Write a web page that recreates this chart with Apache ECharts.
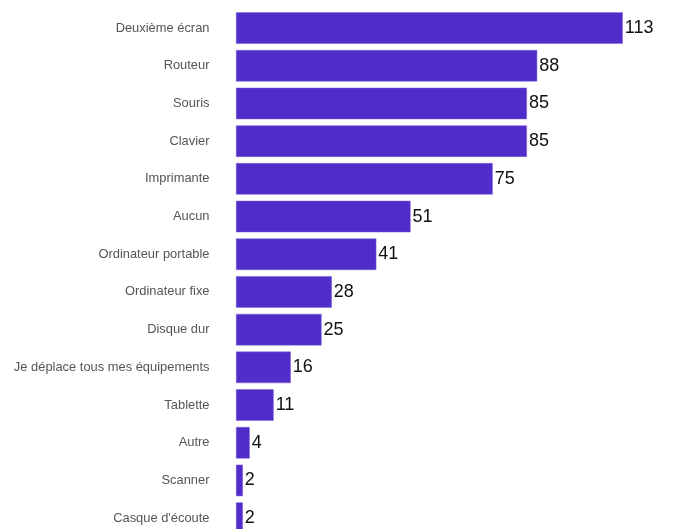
<!DOCTYPE html>
<html><head><meta charset="utf-8">
<script src="https://cdn.jsdelivr.net/npm/echarts@6/dist/echarts.min.js"></script>
<style>html,body{margin:0;padding:0;overflow:hidden;background:#fff;width:673px;height:529px}#c{width:673px;height:545px}</style>
</head><body><div id="c"></div>
<script>
const categories = ["Deuxième écran","Routeur","Souris","Clavier","Imprimante","Aucun","Ordinateur portable","Ordinateur fixe","Disque dur","Je déplace tous mes équipements","Tablette","Autre","Scanner","Casque d'écoute"];
const values = [113,88,85,85,75,51,41,28,25,16,11,4,2,2];
const chart = echarts.init(document.getElementById('c'), null, {renderer:'canvas'});
chart.setOption({
  animation:false,
  backgroundColor:'#fff',
  grid:{left:236,right:26.3,top:9.2,bottom:8,containLabel:false},
  xAxis:{type:'value',min:0,max:120,show:false,splitLine:{show:false}},
  yAxis:{type:'category',data:categories,inverse:true,
    axisLine:{show:false},axisTick:{show:false},
    axisLabel:{margin:26.5,fontSize:12.9,color:'#555',fontFamily:'Liberation Sans, Arial, sans-serif'}},
  series:[{type:'bar',data:values,barWidth:31.5,
    itemStyle:{color:'#502cc9',borderColor:'#7d63d8',borderWidth:0.5},
    label:{show:true,position:'right',distance:2,fontSize:18,color:'#111',fontFamily:'Liberation Sans, Arial, sans-serif'}}]
});
</script></body></html>
